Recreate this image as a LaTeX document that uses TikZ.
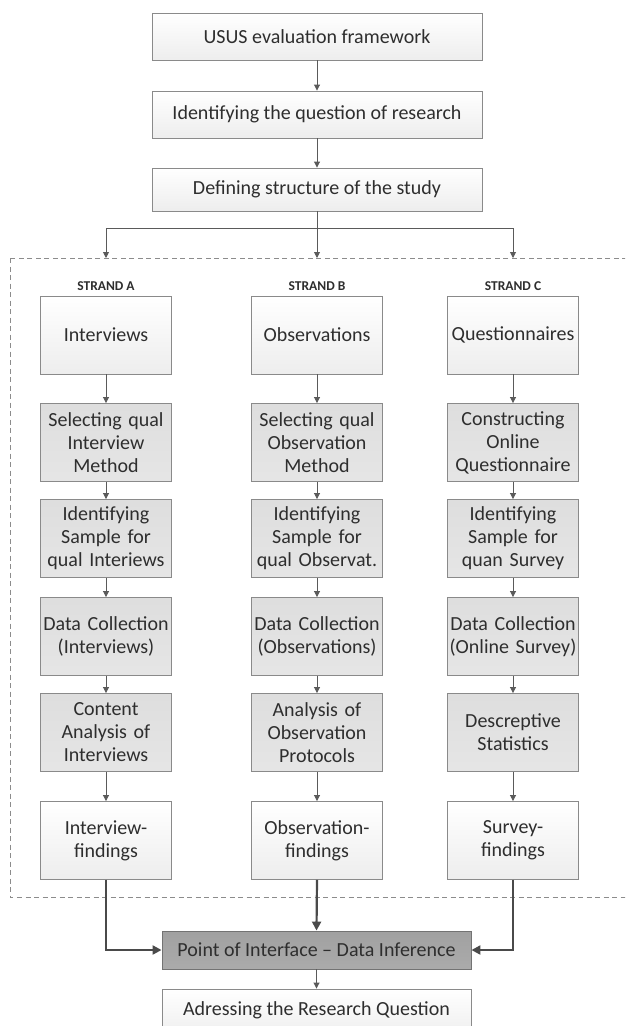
\documentclass[tikz,border=0pt]{standalone}
\usepackage{fontspec}
\setmainfont{Carlito}
\usetikzlibrary{arrows.meta,positioning}
\definecolor{bordergray}{HTML}{8A8A8A}
\definecolor{txt}{HTML}{2E2E2E}
\definecolor{arrgray}{HTML}{5A5A5A}
\definecolor{darkarr}{HTML}{4A4A4A}
\definecolor{dashgray}{HTML}{8C8C8C}
\tikzset{
  basebox/.style={draw=bordergray, line width=0.9pt, text=txt, font=\fontsize{20}{23}\selectfont, align=center, inner sep=1pt},
  whitebox/.style={basebox, top color=white, bottom color=black!7},
  graybox/.style={basebox, top color=black!13, bottom color=black!10},
  darkbox/.style={basebox, top color=black!37, bottom color=black!33, draw=black!55},
  colbox/.style={minimum width=131pt, minimum height=78pt, text width=129pt},
  widebox/.style={minimum width=330pt, minimum height=47pt},
  botbox/.style={minimum width=309pt, minimum height=38pt},
  arr/.style={draw=arrgray, line width=0.9pt, -{Triangle[width=6pt,length=6pt]}},
  thickarr/.style={draw=darkarr, line width=2.2pt, -{Triangle[width=9pt,length=9pt]}},
  strandlbl/.style={font=\fontsize{13.5}{16}\selectfont\bfseries, text=txt, inner sep=0pt},
}
\begin{document}
\begin{tikzpicture}[x=1pt,y=-1pt]
\useasboundingbox (0,0) rectangle (625,1026);
\clip (0,0) rectangle (625,1026);
% top chain
\node[whitebox, widebox] (usus) at (317,36.5) {USUS evaluation framework};
\node[whitebox, widebox] (ident) at (317,114.5) {Identifying the question of research};
\node[whitebox, widebox, minimum height=43pt] (def) at (317,189.5) {Defining structure of the study};
\draw[arr] (usus) -- (ident);
\draw[arr] (ident) -- (def);
% dashed region
\draw[dashgray, line width=0.9pt, dash pattern=on 5pt off 3.5pt] (10,258) rectangle (640,897);
\coordinate (j) at (317,228);
\coordinate (ta) at (106,258);
\coordinate (tb) at (317,258);
\coordinate (tc) at (513,258);
\draw[arrgray, line width=0.9pt] (def.south) -- (j);
\draw[arr] (j) -| (ta);
\draw[arr] (j) -- (tb);
\draw[arr] (j) -| (tc);
% strand labels
\node[strandlbl] (la) at (106,286) {STRAND A};
\node[strandlbl] (lb) at (317,286) {STRAND B};
\node[strandlbl] (lc) at (513,286) {STRAND C};
% Strand A
\node[whitebox, colbox] (a1) at (106,335) {Interviews};
\node[graybox, colbox] (a2) at (106,442.5) {Selecting qual\\Interview\\Method};
\node[graybox, colbox] (a3) at (106,538.5) {Identifying\\Sample for\\qual Interiews};
\node[graybox, colbox] (a4) at (106,636.5) {Data Collection\\(Interviews)};
\node[graybox, colbox] (a5) at (106,732.5) {Content\\Analysis of\\Interviews};
\node[whitebox, colbox] (a6) at (106,840.5) {Interview-\\findings};
% Strand B
\node[whitebox, colbox] (b1) at (317,335) {Observations};
\node[graybox, colbox] (b2) at (317,442.5) {Selecting qual\\Observation\\Method};
\node[graybox, colbox] (b3) at (317,538.5) {Identifying\\Sample for\\qual Observat.};
\node[graybox, colbox] (b4) at (317,636.5) {Data Collection\\(Observations)};
\node[graybox, colbox] (b5) at (317,732.5) {Analysis of\\Observation\\Protocols};
\node[whitebox, colbox] (b6) at (317,840.5) {Observation-\\findings};
% Strand C
\node[whitebox, colbox] (c1) at (513,335) {Questionnaires};
\node[graybox, colbox] (c2) at (513,442.5) {Constructing\\Online\\Questionnaire};
\node[graybox, colbox] (c3) at (513,538.5) {Identifying\\Sample for\\quan Survey};
\node[graybox, colbox] (c4) at (513,636.5) {Data Collection\\(Online Survey)};
\node[graybox, colbox] (c5) at (513,732.5) {Descreptive\\Statistics};
\node[whitebox, colbox] (c6) at (513,840.5) {Survey-\\findings};
\foreach \s in {a,b,c}{
  \draw[arr] (\s1) -- (\s2);
  \draw[arr] (\s2) -- (\s3);
  \draw[arr] (\s3) -- (\s4);
  \draw[arr] (\s4) -- (\s5);
  \draw[arr] (\s5) -- (\s6);
}
% bottom
\node[darkbox, botbox] (poi) at (316.5,950) {Point of Interface -- Data Inference};
\node[whitebox, botbox, minimum height=50pt] (adr) at (316.5,1014) {};
\node[text=txt, font=\fontsize{20}{23}\selectfont, anchor=base, inner sep=0pt] (adrt) at (316.5,1015) {Adressing the Research Question};
\draw[thickarr] (a6.south) |- (poi.west);
\draw[thickarr] (b6.south) -- (poi.north);
\draw[thickarr] (c6.south) |- (poi.east);
\draw[arr] (poi.south) -- (adr.north);
\end{tikzpicture}
\end{document}
